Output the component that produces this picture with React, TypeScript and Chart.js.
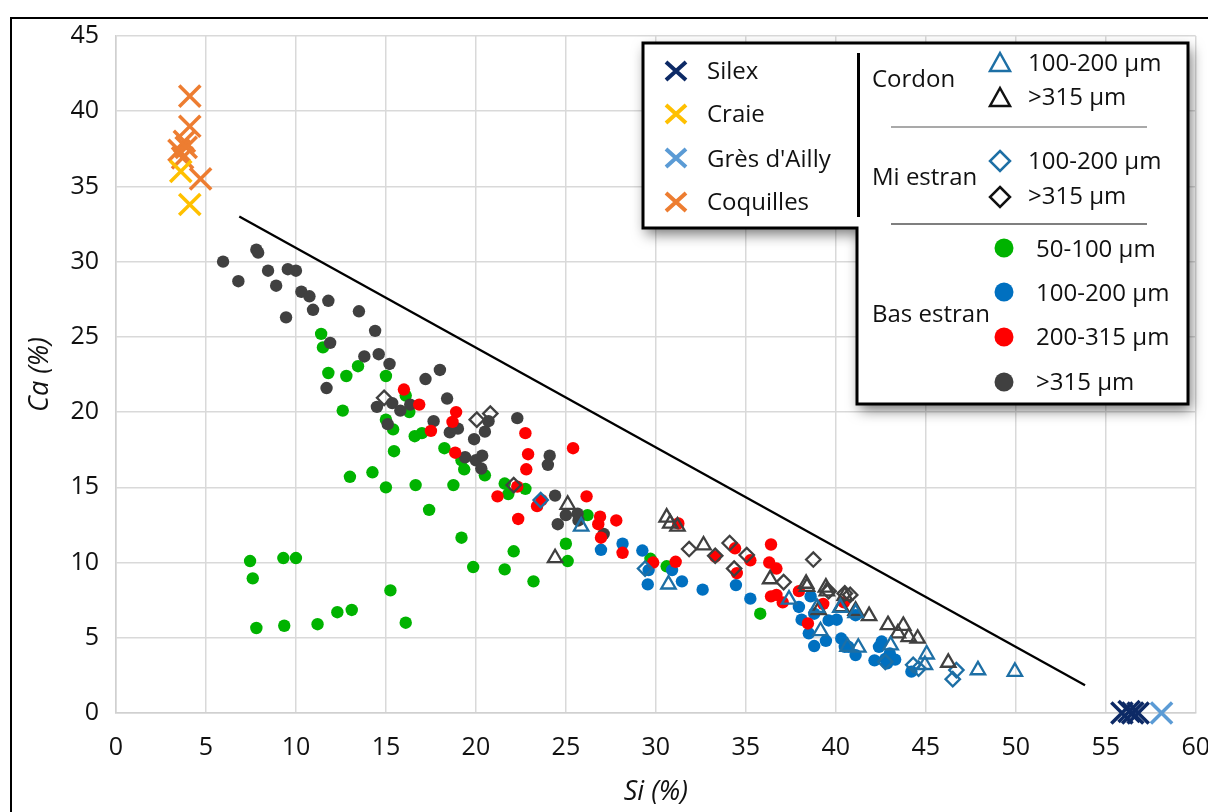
import { useEffect, useRef } from "react";
import { Chart, registerables } from "chart.js";

Chart.register(...registerables);

const FONT = "'Open Sans', 'Noto Sans', sans-serif";

// ---- axis ranges / ticks ----
const xRange = [0, 60];
const yRange = [0, 45];
const tickStep = 5;
const xTitle = "Si (%)";
const yTitle = "Ca (%)";

// ---- reference materials (X markers) ----
const silex = [[55.9, 0], [56.3, 0.1], [56.5, 0], [56.8, 0]];
const craie = [[3.6, 36.0], [4.1, 33.8]];
const gresAilly = [[58.1, 0]];
const coquilles = [[4.1, 41.0], [4.1, 39.0], [3.8, 38.0], [3.5, 37.4], [3.9, 37.6], [3.7, 36.9], [4.7, 35.5]];

// ---- Cordon (triangles) ----
const cordon100 = [[25.85, 12.4], [30.7, 8.55], [37.4, 7.55], [39.15, 5.45], [38.95, 7.0], [40.25, 7.0], [41.1, 6.65], [41.25, 4.35], [40.65, 4.4], [43.05, 4.5], [45.05, 3.9], [44.95, 3.2], [47.9, 2.85], [49.95, 2.75]];
const cordon315 = [[25.1, 13.85], [24.4, 10.3], [30.6, 13.0], [30.8, 12.6], [31.2, 12.4], [32.65, 11.15], [36.35, 8.9], [38.35, 8.6], [38.4, 8.4], [39.45, 8.35], [39.5, 8.1], [39.05, 6.85], [40.3, 7.05], [40.5, 7.8], [41.1, 6.8], [41.85, 6.45], [42.9, 5.85], [43.75, 5.8], [43.45, 5.3], [44.05, 5.05], [44.55, 4.95], [46.25, 3.35]];

// ---- Mi estran (diamonds) ----
const mi100 = [[23.6, 14.15], [29.4, 9.6], [42.75, 3.4], [44.3, 3.2], [44.6, 2.95], [46.7, 2.85], [46.5, 2.25]];
const mi315 = [[14.9, 20.95], [20.05, 19.5], [20.8, 19.9], [22.1, 15.15], [31.85, 10.9], [33.3, 10.45], [34.1, 11.3], [35.05, 10.5], [34.35, 9.6], [37.1, 8.7], [38.75, 10.2], [39.6, 8.1], [40.5, 7.95], [40.8, 7.85]];

// ---- Bas estran (circles) ----
const bas50 = [[11.4, 25.2], [11.5, 24.3], [11.8, 22.6], [12.8, 22.4], [13.45, 23.05], [15.0, 22.4], [12.6, 20.1], [16.1, 21.1], [16.3, 20.0], [15.0, 19.5], [15.4, 18.85], [16.6, 18.4], [17.0, 18.6], [18.25, 17.6], [15.45, 17.4], [19.2, 16.8], [19.35, 16.2], [20.5, 15.8], [13.0, 15.7], [14.25, 16.0], [15.0, 15.0], [16.65, 15.15], [18.75, 15.15], [17.4, 13.5], [21.6, 15.25], [21.8, 14.55], [22.75, 14.9], [19.2, 11.65], [22.1, 10.75], [25.0, 11.25], [25.1, 10.1], [19.85, 9.7], [21.6, 9.55], [26.2, 13.15], [23.2, 8.75], [29.7, 10.25], [30.6, 9.75], [35.8, 6.6], [7.45, 10.1], [7.6, 8.95], [9.3, 10.3], [10.0, 10.3], [7.8, 5.65], [9.35, 5.8], [11.2, 5.9], [12.3, 6.7], [13.1, 6.85], [15.25, 8.15], [16.1, 6.0]];
const bas100 = [[26.95, 10.85], [28.15, 11.25], [29.25, 10.8], [29.55, 8.55], [29.6, 9.5], [30.9, 9.5], [31.45, 8.75], [32.6, 8.2], [34.45, 8.5], [35.25, 7.6], [37.95, 7.05], [38.6, 7.75], [38.1, 6.2], [38.5, 5.3], [38.8, 4.45], [39.45, 4.8], [39.6, 6.15], [40.05, 6.2], [40.3, 4.95], [40.5, 4.4], [38.8, 6.6], [40.7, 4.4], [41.1, 3.85], [41.1, 6.5], [42.4, 4.4], [42.55, 4.75], [42.15, 3.5], [42.75, 3.6], [43.3, 3.55], [43.0, 3.95], [44.2, 2.75], [42.85, 3.3]];
const bas200 = [[16.0, 21.5], [16.85, 20.5], [17.5, 18.75], [18.9, 20.0], [18.7, 19.35], [18.85, 17.3], [22.75, 18.6], [22.9, 17.2], [22.8, 16.2], [25.4, 17.6], [21.2, 14.4], [22.3, 15.05], [22.35, 12.9], [23.4, 13.75], [23.65, 14.15], [26.15, 14.4], [26.9, 13.05], [26.8, 12.55], [27.8, 12.8], [26.95, 11.65], [28.15, 10.65], [31.25, 12.6], [31.1, 10.05], [29.85, 10.0], [33.3, 10.4], [34.4, 10.95], [35.25, 10.15], [36.4, 11.2], [36.3, 10.0], [36.7, 9.6], [34.5, 9.3], [36.4, 7.75], [36.7, 7.85], [37.05, 7.35], [37.95, 8.1], [38.45, 5.95], [39.3, 7.25], [40.45, 7.35]];
const bas315 = [[5.95, 30.0], [7.8, 30.8], [7.9, 30.6], [6.8, 28.7], [8.45, 29.4], [9.55, 29.5], [10.0, 29.4], [8.9, 28.4], [10.3, 28.0], [10.75, 27.7], [11.8, 27.4], [10.95, 26.8], [9.45, 26.3], [13.5, 26.7], [14.4, 25.4], [11.9, 24.6], [13.8, 23.7], [14.6, 23.85], [15.2, 23.2], [11.7, 21.6], [17.2, 22.2], [18.0, 22.8], [18.4, 20.9], [14.5, 20.35], [15.35, 20.6], [15.8, 20.1], [16.35, 20.5], [15.1, 19.2], [17.65, 19.4], [18.55, 18.65], [18.8, 19.0], [19.0, 18.9], [19.9, 18.2], [20.5, 18.7], [20.7, 19.4], [22.3, 19.6], [19.4, 17.0], [20.0, 16.8], [20.35, 17.1], [20.3, 16.25], [24.1, 17.1], [24.0, 16.5], [24.4, 14.45], [25.0, 13.15], [25.65, 13.25], [25.7, 12.8], [24.55, 12.55], [27.1, 11.9]];

// ---- boundary line ----
const boundaryLine = [[6.85, 33.0], [53.85, 1.85]];

// ---- legend texts ----
const materialLabels = ["Silex", "Craie", "Grès d'Ailly", "Coquilles"];
const groupLabels = ["Cordon", "Mi estran", "Bas estran"];
const cordonClasses = ["100-200 µm", ">315 µm"];
const miClasses = ["100-200 µm", ">315 µm"];
const basClasses = ["50-100 µm", "100-200 µm", "200-315 µm", ">315 µm"];

const C = {
  silex: "#0d2a66",
  craie: "#ffc000",
  gres: "#5b9bd5",
  coq: "#ed7d31",
  green: "#00b300",
  blue: "#0070c0",
  red: "#ff0000",
  dark: "#404040",
  openBlue: "#1d6fa5",
};

const pts = (a: number[][]) => a.map(([x, y]) => ({ x, y }));

function drawX(ctx: CanvasRenderingContext2D, x: number, y: number, color: string) {
  ctx.beginPath();
  ctx.strokeStyle = color;
  ctx.lineWidth = 4;
  ctx.moveTo(x - 10, y - 9);
  ctx.lineTo(x + 10, y + 9);
  ctx.moveTo(x + 10, y - 9);
  ctx.lineTo(x - 10, y + 9);
  ctx.stroke();
}

const legendPlugin = {
  id: "customLegend",
  afterDraw(chart: any) {
    const ctx: CanvasRenderingContext2D = chart.ctx;
    ctx.save();
    ctx.beginPath();
    ctx.moveTo(643, 43);
    ctx.lineTo(1188, 43);
    ctx.lineTo(1188, 404);
    ctx.lineTo(857, 404);
    ctx.lineTo(857, 228);
    ctx.lineTo(643, 228);
    ctx.closePath();
    ctx.shadowColor = "rgba(0,0,0,0.55)";
    ctx.shadowBlur = 14;
    ctx.shadowOffsetX = 3;
    ctx.shadowOffsetY = 6;
    ctx.fillStyle = "#ffffff";
    ctx.fill();
    ctx.shadowColor = "transparent";
    ctx.shadowBlur = 0;
    ctx.shadowOffsetX = 0;
    ctx.shadowOffsetY = 0;
    ctx.lineWidth = 3;
    ctx.strokeStyle = "#000";
    ctx.lineJoin = "miter";
    ctx.stroke();

    // vertical separator
    ctx.beginPath();
    ctx.lineWidth = 3;
    ctx.moveTo(858.5, 53);
    ctx.lineTo(858.5, 217);
    ctx.stroke();

    // horizontal separators
    ctx.lineWidth = 1.5;
    ctx.strokeStyle = "#8c8c8c";
    ctx.beginPath();
    ctx.moveTo(891, 127);
    ctx.lineTo(1147, 127);
    ctx.stroke();
    ctx.strokeStyle = "#555";
    ctx.beginPath();
    ctx.moveTo(891, 224);
    ctx.lineTo(1147, 224);
    ctx.stroke();

    ctx.font = `24px ${FONT}`;
    ctx.fillStyle = "#111";
    ctx.textAlign = "left";
    ctx.textBaseline = "alphabetic";

    const matColors = [C.silex, C.craie, C.gres, C.coq];
    const matY = [71, 114, 158, 202];
    const matBase = [79, 122, 166.5, 209.5];
    materialLabels.forEach((t, i) => {
      drawX(ctx, 676, matY[i], matColors[i]);
      ctx.fillStyle = "#111";
      ctx.fillText(t, 707, matBase[i]);
    });

    ctx.fillStyle = "#111";
    ctx.fillText(groupLabels[0], 872, 87);
    ctx.fillText(groupLabels[1], 872, 185);
    ctx.fillText(groupLabels[2], 872, 322);

    const tri = (x: number, y: number, color: string) => {
      ctx.beginPath();
      ctx.strokeStyle = color;
      ctx.lineWidth = 2.5;
      ctx.moveTo(x, y - 10);
      ctx.lineTo(x + 10, y + 8);
      ctx.lineTo(x - 10, y + 8);
      ctx.closePath();
      ctx.stroke();
    };
    tri(1000, 63, C.openBlue);
    tri(1000, 98, "#111");
    ctx.fillStyle = "#111";
    ctx.fillText(cordonClasses[0], 1028, 71);
    ctx.fillText(cordonClasses[1], 1028, 105);

    const dia = (x: number, y: number, color: string) => {
      ctx.beginPath();
      ctx.strokeStyle = color;
      ctx.lineWidth = 2.5;
      ctx.moveTo(x, y - 10);
      ctx.lineTo(x + 10, y);
      ctx.lineTo(x, y + 10);
      ctx.lineTo(x - 10, y);
      ctx.closePath();
      ctx.stroke();
    };
    dia(1000, 161, C.openBlue);
    dia(1000, 197, "#111");
    ctx.fillStyle = "#111";
    ctx.fillText(miClasses[0], 1028, 169);
    ctx.fillText(miClasses[1], 1028, 204);

    const basColors = [C.green, C.blue, C.red, C.dark];
    const basY = [248, 292, 337, 382];
    const basBase = [257, 301, 345, 389.5];
    basClasses.forEach((t, i) => {
      ctx.beginPath();
      ctx.fillStyle = basColors[i];
      ctx.arc(1004, basY[i], 9.5, 0, Math.PI * 2);
      ctx.fill();
      ctx.fillStyle = "#111";
      ctx.fillText(t, 1036, basBase[i]);
    });
    ctx.restore();
  },
};

export default function App() {
  const ref = useRef<HTMLCanvasElement | null>(null);

  useEffect(() => {
    if (!ref.current) return;
    const xDs = (label: string, data: number[][], color: string) => ({
      label,
      data: pts(data),
      pointStyle: "crossRot",
      pointRadius: 15,
      pointBorderWidth: 3.5,
      pointBorderColor: color,
      pointBackgroundColor: color,
      clip: false,
      order: 0,
    });
    const openDs = (label: string, data: number[][], color: string, style: string, r: number, order: number) => ({
      label,
      data: pts(data),
      pointStyle: style,
      pointRadius: r,
      pointBorderWidth: 2.3,
      pointBorderColor: color,
      pointBackgroundColor: "rgba(255,255,255,0)",
      clip: false,
      order,
    });
    const dotDs = (label: string, data: number[][], color: string, order: number) => ({
      label,
      data: pts(data),
      pointStyle: "circle",
      pointRadius: 6.2,
      pointBorderWidth: 0,
      pointBorderColor: color,
      pointBackgroundColor: color,
      clip: false,
      order,
    });

    const chart = new Chart(ref.current, {
      type: "scatter",
      data: {
        datasets: [
          xDs("Silex", silex, C.silex),
          xDs("Craie", craie, C.craie),
          xDs("Grès d'Ailly", gresAilly, C.gres),
          xDs("Coquilles", coquilles, C.coq),
          {
            type: "line",
            label: "limite",
            data: pts(boundaryLine),
            borderColor: "#000",
            borderWidth: 2.3,
            pointRadius: 0,
            showLine: true,
            fill: false,
            order: 1,
          } as any,
          openDs("Cordon 100-200 µm", cordon100, C.openBlue, "triangle", 8.3, 2),
          openDs("Cordon >315 µm", cordon315, C.dark, "triangle", 8.3, 2),
          openDs("Mi estran 100-200 µm", mi100, C.openBlue, "rectRot", 7.2, 2),
          openDs("Mi estran >315 µm", mi315, C.dark, "rectRot", 7.2, 2),
          dotDs("Bas estran 200-315 µm", bas200, C.red, 3),
          dotDs("Bas estran >315 µm", bas315, C.dark, 4),
          dotDs("Bas estran 100-200 µm", bas100, C.blue, 5),
          dotDs("Bas estran 50-100 µm", bas50, C.green, 6),
        ] as any,
      },
      options: {
        responsive: false,
        animation: false,
        events: [],
        layout: { padding: { left: 0, right: 32, top: 36, bottom: 0 } },
        plugins: { legend: { display: false }, tooltip: { enabled: false } },
        scales: {
          x: {
            type: "linear",
            min: xRange[0],
            max: xRange[1],
            afterFit: (s: any) => {
              s.height = 99;
            },
            ticks: {
              stepSize: tickStep,
              padding: 20,
              color: "#111",
              font: { family: FONT, size: 25 },
            },
            grid: { color: "#d9d9d9", lineWidth: 1.5, drawTicks: false },
            border: { color: "#d0d0d0", width: 1.5 },
            title: {
              display: true,
              text: xTitle,
              color: "#111",
              font: { family: FONT, size: 27, style: "italic" },
              padding: { top: 0, bottom: 3 },
            },
          },
          y: {
            type: "linear",
            min: yRange[0],
            max: yRange[1],
            afterFit: (s: any) => {
              s.width = 116;
            },
            ticks: {
              stepSize: tickStep,
              padding: 17,
              color: "#111",
              font: { family: FONT, size: 25 },
            },
            grid: { color: "#d9d9d9", lineWidth: 1.5, drawTicks: false },
            border: { color: "#d0d0d0", width: 1.5 },
            title: {
              display: true,
              text: yTitle,
              color: "#111",
              font: { family: FONT, size: 27, style: "italic" },
              padding: { top: 24, bottom: 0 },
            },
          },
        },
      },
      plugins: [legendPlugin as any],
    });
    return () => chart.destroy();
  }, []);

  return (
    <div
      style={{
        position: "fixed",
        left: 0,
        top: 0,
        width: 1208,
        height: 812,
        overflow: "hidden",
        background: "#fff",
      }}
    >
      <canvas ref={ref} width={1230} height={812} style={{ position: "absolute", left: 0, top: 0 }} />
      <div
        style={{
          position: "absolute",
          left: 10,
          top: 17,
          width: 1240,
          height: 840,
          border: "2px solid #000",
          pointerEvents: "none",
        }}
      />
    </div>
  );
}
